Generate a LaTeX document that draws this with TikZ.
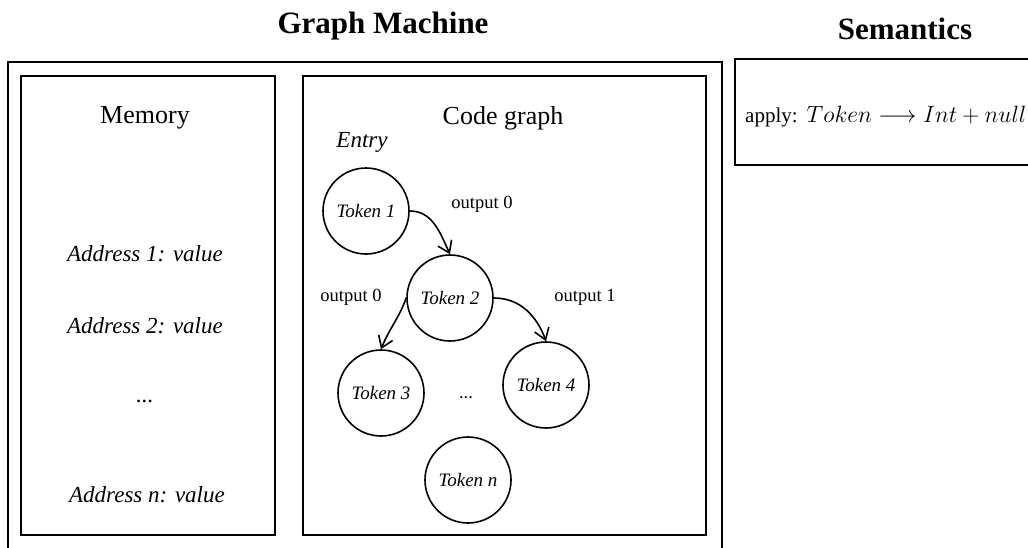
\documentclass[tikz,border=0pt]{standalone}
\usepackage{fix-cm}
\usepackage{fontspec}
\setmainfont{Liberation Serif}
\usetikzlibrary{arrows.meta}
\begin{document}
\begin{tikzpicture}[x=1pt,y=-1pt,
  frame/.style={draw, line width=2.4pt},
  panel/.style={draw, line width=1.8pt},
  title/.style={font=\fontsize{31}{36}\selectfont\bfseries},
  heading/.style={font=\fontsize{26}{30}\selectfont},
  addr/.style={font=\fontsize{23}{26}\selectfont\itshape},
  token/.style={circle, draw, line width=1.6pt, minimum size=86pt, inner sep=0pt,
                font=\fontsize{19}{21}\selectfont\itshape},
  lbl/.style={font=\fontsize{18.5}{21}\selectfont},
  edge/.style={-{Straight Barb[length=11pt,width=15pt]}, line width=1.6pt}]
\useasboundingbox (0,0) rectangle (1028,547);
\clip (0,0) rectangle (1028,547);

% titles
\node[title] (gm) at (383,26) {Graph Machine};
\node[title] (sem) at (905,29) {Semantics};

% machine frame and its two panels
\draw[frame] (8,62) rectangle (722,580);
\draw[panel] (21,76) rectangle (275,535);
\draw[panel] (303,76) rectangle (706,535);

% memory panel
\node[heading] (mem) at (145,118) {Memory};
\node[addr] (a1) at (145,254) {Address 1: value};
\node[addr] (a2) at (145,326) {Address 2: value};
\node[addr] (adots) at (145,401) {...};
\node[addr] (an) at (147,495) {Address n: value};

% code graph panel
\node[heading] (cg) at (503,118) {Code graph};
\node[addr] (entry) at (362,142) {Entry};

\node[token] (t1) at (366,211) {Token 1};
\node[token] (t2) at (450,298) {Token 2};
\node[token] (t3) at (381,393) {Token 3};
\node[token] (t4) at (546,385) {Token 4};
\node[token] (tn) at (468,480) {Token n};
\node[lbl] (gdots) at (466,398) {...};

\draw[edge] (t1.east) to[out=0,in=115] (t2.north);
\draw[edge] (t2.west) to[out=250,in=68] (t3.north);
\draw[edge] (t2.east) to[out=0,in=110] (t4.north);

\node[lbl] (o1) at (482,204) {output 0};
\node[lbl] (o2) at (351,297) {output 0};
\node[lbl] (o3) at (585,297) {output 1};

% semantics box
\draw[panel] (735,59) rectangle (1060,165);
\node[anchor=base west, inner sep=0pt] (apply) at (745,122)
  {\fontsize{21}{24}\selectfont apply:\hspace{9pt}\fontsize{23.6}{27}\selectfont$Token \longrightarrow Int + null$};
\end{tikzpicture}
\end{document}
